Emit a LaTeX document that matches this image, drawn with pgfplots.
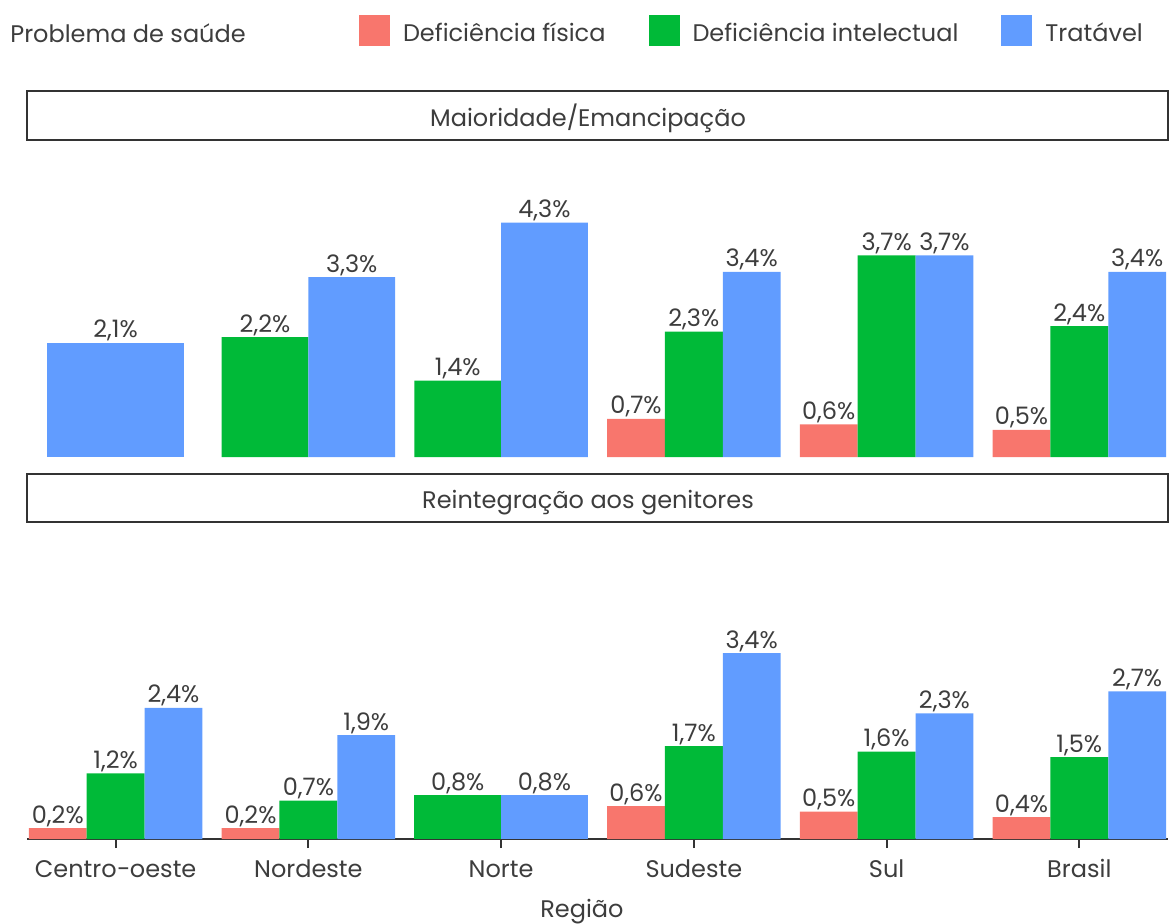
\documentclass[border=0pt]{standalone}
\usepackage{fontspec}
\setmainfont{Poppins}
\usepackage{pgfplots}
\pgfplotsset{compat=1.18}
\definecolor{cR}{HTML}{F8766D}
\definecolor{cG}{HTML}{00BA38}
\definecolor{cB}{HTML}{619CFF}
\definecolor{txt}{HTML}{3D3D3D}
\definecolor{axc}{HTML}{333333}
\newcommand{\fs}{\fontsize{12}{14}\selectfont}
\pgfplotsset{
  panel/.style={
    scale only axis, width=570.5pt,
    xmin=-0.46, xmax=5.46, ymin=0, ymax=5.8,
    clip=false,
    ybar, bar width=0.3, bar shift=0,
    every axis plot/.append style={draw=none},
    nodes near coords={\pgfmathprintnumber[fixed,fixed zerofill,precision=1,use comma,assume math mode=true]{\pgfplotspointmeta}\%},
    every node near coord/.append style={font=\fs, text=txt, anchor=base, inner sep=0pt, yshift=2.5pt},
  },
}
\begin{document}
\begin{tikzpicture}
\path[use as bounding box] (0,0) rectangle (584.5pt,461.5pt);
\node[anchor=base west, font=\fs, text=txt, inner sep=0pt] at (5pt,440pt) {Problema de saúde};
% top panel
\begin{axis}[panel,
  height=158pt, at={(13.5pt,233pt)}, anchor=south west,
  axis lines=none, xtick=\empty, ytick=\empty,
  legend cell align=left,
  legend style={draw=none, fill=none, inner sep=0pt, outer sep=0pt,
    at={(axis description cs:0.29098,1.3497)}, anchor=west,
    legend columns=-1, font=\fs, text=txt,
    nodes={inner sep=0pt, anchor=base west},
    /tikz/every odd column/.append style={column sep=6.5pt},
    /tikz/every even column/.append style={column sep=21.5pt}},
  legend image code/.code={\fill[#1] (0pt,-2.5pt) rectangle (15.5pt,13pt);},
]
\addplot[fill=cR] coordinates {(2.7,0.7) (3.7,0.6) (4.7,0.5)};
\addplot[fill=cG] coordinates {(3,2.3) (4,3.7) (5,2.4)};
\addplot[fill=cB] coordinates {(3.3,3.4) (4.3,3.7) (5.3,3.4)};
\addplot[fill=cG, bar width=0.45] coordinates {(0.775,2.2) (1.775,1.4)};
\addplot[fill=cB, bar width=0.45] coordinates {(1.225,3.3) (2.225,4.3)};
\addplot[fill=cB, bar width=0.71] coordinates {(0,2.1)};
\legend{Deficiência física, Deficiência intelectual, Tratável}
\draw[line width=1pt, draw=axc, fill=white] ([yshift=0.5pt]rel axis cs:0,1) rectangle ([yshift=25pt]rel axis cs:1,1);
\node[font=\fs, text=txt, anchor=base, inner sep=0pt] at ([yshift=7.5pt]rel axis cs:0.4917,1) {Maioridade/Emancipação};
\end{axis}
% bottom panel
\begin{axis}[panel,
  height=158.5pt, at={(13.5pt,42pt)}, anchor=south west,
  axis x line*=bottom, axis y line=none,
  x axis line style={-, line width=1pt, draw=axc},
  xtick={0,1,2,3,4,5},
  xticklabels={Centro−oeste, Nordeste, Norte, Sudeste, Sul, Brasil},
  ytick=\empty,
  tick align=outside, major tick length=4.5pt,
  xtick style={line width=1pt, draw=axc},
  xticklabel style={font=\fs, text=txt, anchor=base, inner sep=0pt, yshift=-14.5pt},
  xlabel={Região},
  xlabel style={font=\fs, text=txt, at={(axis description cs:0.4864,0)}, anchor=base, inner sep=0pt, yshift=-39pt},
]
\addplot[fill=cR] coordinates {(-0.3,0.2) (0.7,0.2) (2.7,0.6) (3.7,0.5) (4.7,0.4)};
\addplot[fill=cG] coordinates {(0,1.2) (1,0.7) (3,1.7) (4,1.6) (5,1.5)};
\addplot[fill=cB] coordinates {(0.3,2.4) (1.3,1.9) (3.3,3.4) (4.3,2.3) (5.3,2.7)};
\addplot[fill=cG, bar width=0.45] coordinates {(1.775,0.8)};
\addplot[fill=cB, bar width=0.45] coordinates {(2.225,0.8)};
\draw[line width=1pt, draw=axc, fill=white] (rel axis cs:0,1) rectangle ([yshift=24pt]rel axis cs:1,1);
\node[font=\fs, text=txt, anchor=base, inner sep=0pt] at ([yshift=7pt]rel axis cs:0.4917,1) {Reintegração aos genitores};
\end{axis}
\end{tikzpicture}
\end{document}
